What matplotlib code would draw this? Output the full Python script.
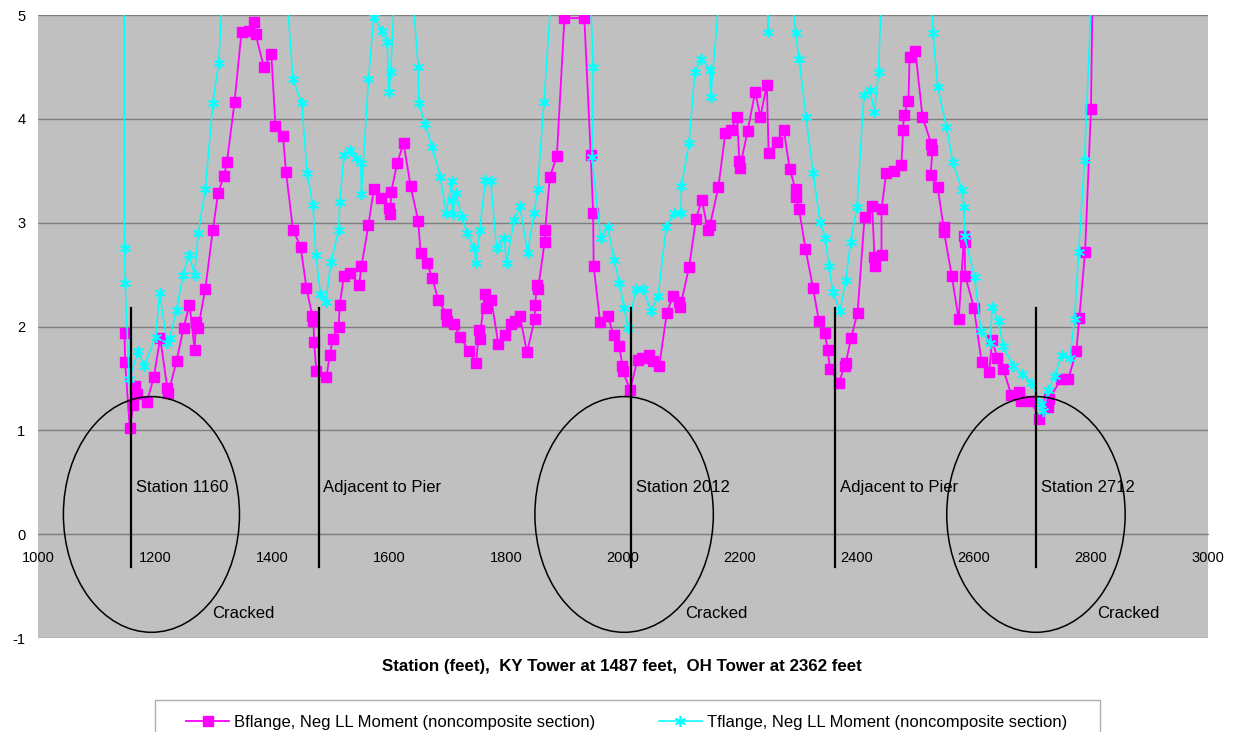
import matplotlib
matplotlib.use("Agg")
import matplotlib.pyplot as plt
from matplotlib.patches import Ellipse, Rectangle

plt.rcParams['font.family'] = ['Liberation Sans', 'DejaVu Sans']
plt.rcParams['axes.unicode_minus'] = False

# Bflange, Neg LL Moment (noncomposite section)
b_station = [1148, 1149, 1157, 1163, 1166, 1170, 1186, 1198, 1209, 1221, 1223, 1237, 1249, 1259, 1268, 1270,
             1274, 1286, 1299, 1308, 1318, 1323, 1336, 1348, 1360, 1369, 1372, 1386, 1399, 1406, 1419, 1424,
             1436, 1449, 1459, 1469, 1471, 1472, 1476, 1493, 1499, 1504, 1514, 1516, 1523, 1533, 1549, 1553,
             1565, 1574, 1586, 1600, 1602, 1604, 1614, 1625, 1637, 1650, 1654, 1665, 1674, 1684, 1698, 1700,
             1711, 1722, 1737, 1749, 1754, 1755, 1764, 1766, 1775, 1787, 1799, 1808, 1815, 1824, 1836, 1849,
             1850, 1853, 1855, 1866, 1867, 1875, 1887, 1900, 1934, 1945, 1949, 1950, 1961, 1974, 1984, 1994,
             1999, 2000, 2012, 2025, 2032, 2045, 2051, 2062, 2075, 2085, 2095, 2098, 2113, 2125, 2135, 2145,
             2149, 2163, 2175, 2184, 2195, 2199, 2200, 2213, 2226, 2235, 2246, 2249, 2263, 2275, 2285, 2295,
             2296, 2301, 2312, 2325, 2335, 2345, 2350, 2354, 2369, 2379, 2381, 2390, 2401, 2413, 2426, 2430,
             2431, 2442, 2442, 2450, 2464, 2476, 2479, 2480, 2488, 2490, 2500, 2512, 2527, 2529, 2526, 2538,
             2548, 2549, 2562, 2574, 2583, 2584, 2585, 2600, 2613, 2626, 2631, 2640, 2650, 2664, 2677, 2681,
             2698, 2712, 2727, 2728, 2749, 2761, 2775, 2780, 2790, 2800, 2806]
b_value = [1.94, 1.66, 1.02, 1.24, 1.43, 1.35, 1.27, 1.51, 1.89, 1.41, 1.36, 1.67, 1.99, 2.21, 1.77, 2.04,
           1.99, 2.36, 2.93, 3.29, 3.45, 3.58, 4.16, 4.84, 4.85, 4.93, 4.82, 4.50, 4.62, 3.93, 3.83, 3.49,
           2.93, 2.77, 2.37, 2.10, 2.05, 1.85, 1.57, 1.51, 1.73, 1.88, 2.00, 2.21, 2.49, 2.52, 2.40, 2.58,
           2.98, 3.32, 3.24, 3.14, 3.08, 3.30, 3.57, 3.77, 3.35, 3.02, 2.71, 2.61, 2.47, 2.26, 2.12, 2.05,
           2.02, 1.90, 1.76, 1.65, 1.97, 1.88, 2.31, 2.18, 2.26, 1.83, 1.92, 2.02, 2.05, 2.10, 1.75, 2.07,
           2.21, 2.40, 2.36, 2.81, 2.93, 3.44, 3.64, 4.97, 4.97, 3.65, 3.09, 2.58, 2.04, 2.10, 1.92, 1.81,
           1.62, 1.57, 1.39, 1.68, 1.70, 1.73, 1.67, 1.62, 2.13, 2.29, 2.24, 2.19, 2.57, 3.04, 3.22, 2.93,
           2.98, 3.34, 3.86, 3.89, 4.02, 3.59, 3.53, 3.88, 4.26, 4.02, 4.33, 3.67, 3.78, 3.89, 3.52, 3.32,
           3.25, 3.13, 2.75, 2.37, 2.05, 1.94, 1.77, 1.59, 1.46, 1.62, 1.65, 1.89, 2.13, 3.05, 3.16, 2.67,
           2.58, 2.69, 3.13, 3.48, 3.50, 3.56, 3.89, 4.04, 4.17, 4.60, 4.65, 4.02, 3.76, 3.70, 3.46, 3.34,
           2.96, 2.91, 2.49, 2.07, 2.87, 2.81, 2.49, 2.18, 1.66, 1.56, 1.87, 1.70, 1.59, 1.34, 1.37, 1.28,
           1.28, 1.11, 1.22, 1.30, 1.49, 1.49, 1.76, 2.08, 2.72, 4.09, 6.50]

# Tflange, Neg LL Moment (noncomposite section)
t_station = [1147, 1148, 1149, 1156, 1171, 1182, 1201, 1208, 1221, 1225, 1237, 1248, 1258, 1268, 1274, 1286,
             1299, 1309, 1318, 1424, 1436, 1451, 1460, 1470, 1475, 1483, 1492, 1501, 1514, 1516, 1523, 1533,
             1543, 1552, 1553, 1565, 1574, 1588, 1597, 1600, 1603, 1612, 1638, 1650, 1651, 1662, 1674, 1688,
             1698, 1707, 1708, 1709, 1714, 1725, 1734, 1745, 1749, 1755, 1765, 1774, 1784, 1797, 1801, 1814,
             1824, 1837, 1848, 1854, 1865, 1880, 1942, 1949, 1947, 1962, 1974, 1985, 1994, 2002, 2009, 2022,
             2035, 2048, 2060, 2074, 2088, 2099, 2100, 2113, 2123, 2134, 2149, 2150, 2165, 2246, 2248, 2251,
             2288, 2295, 2301, 2313, 2325, 2337, 2346, 2352, 2359, 2371, 2381, 2389, 2400, 2412, 2422, 2430,
             2437, 2444, 2526, 2530, 2538, 2553, 2564, 2580, 2583, 2584, 2601, 2612, 2628, 2631, 2642, 2650,
             2667, 2682, 2698, 2714, 2718, 2727, 2738, 2750, 2764, 2772, 2779, 2789, 2803]
t_value = [9.00, 2.76, 2.42, 1.49, 1.76, 1.62, 1.90, 2.32, 1.84, 1.89, 2.16, 2.50, 2.69, 2.50, 2.90, 3.32,
           4.15, 4.54, 5.50, 5.30, 4.38, 4.15, 3.48, 3.17, 2.69, 2.31, 2.24, 2.62, 2.93, 3.20, 3.65, 3.70,
           3.62, 3.57, 3.28, 4.38, 4.98, 4.85, 4.74, 4.26, 4.45, 5.50, 5.40, 4.50, 4.15, 3.95, 3.73, 3.44,
           3.09, 3.40, 3.22, 3.08, 3.29, 3.05, 2.90, 2.76, 2.61, 2.93, 3.41, 3.40, 2.76, 2.85, 2.61, 3.03,
           3.16, 2.71, 3.09, 3.32, 4.16, 5.42, 5.60, 4.50, 3.63, 2.85, 2.96, 2.64, 2.42, 2.18, 1.99, 2.36,
           2.36, 2.15, 2.29, 2.96, 3.09, 3.09, 3.35, 3.77, 4.45, 4.58, 4.47, 4.21, 5.20, 5.80, 4.84, 5.80,
           5.30, 4.83, 4.58, 4.02, 3.48, 3.01, 2.85, 2.58, 2.33, 2.15, 2.45, 2.81, 3.15, 4.23, 4.28, 4.07,
           4.45, 5.60, 5.60, 4.83, 4.31, 3.92, 3.58, 3.31, 3.15, 2.87, 2.48, 1.96, 1.84, 2.19, 2.05, 1.81,
           1.62, 1.54, 1.46, 1.25, 1.19, 1.39, 1.52, 1.73, 1.70, 2.07, 2.72, 3.60, 5.50]

# marked stations and the notes next to them
mark_station = [1159, 1480, 2014, 2363, 2706]
mark_text = ["Station 1160", "Adjacent to Pier", "Station 2012", "Adjacent to Pier", "Station 2712"]
crack_center = [1194, 2002, 2706]
crack_width = [301, 305, 305]

fig = plt.figure(figsize=(12.36, 7.32), dpi=100)
ax = fig.add_axes([0.0307, 0.1284, 0.9466, 0.8511])
ax.set_facecolor('#c0c0c0')

ax.plot(b_station, b_value, color='#ff00ff', lw=1.3, marker='s', ms=7.5, mec='#ff00ff',
        label='Bflange, Neg LL Moment (noncomposite section)', zorder=3)
ax.plot(t_station, t_value, color='#00ffff', lw=1.1, marker=(6, 2, 0), ms=8, mew=1.2,
        label='Tflange, Neg LL Moment (noncomposite section)', zorder=4)

# vertical station markers + text
for x, s in zip(mark_station, mark_text):
    ax.plot([x, x], [-0.32, 2.18], color='black', lw=1.6, zorder=5)
    ax.text(x + 8, 0.45, s, fontsize=12, va='center', ha='left', zorder=6)

# cracked regions
for c, w in zip(crack_center, crack_width):
    ax.add_patch(Ellipse((c, 0.19), w, 2.27, fill=False, ec='black', lw=1.1, zorder=5))
    ax.text(c + 104, -0.76, "Cracked", fontsize=12, va='center', ha='left', zorder=6)

ax.set_xlim(1000, 3000)
ax.set_ylim(-1, 5)
ax.set_xticks(range(1000, 3001, 200))
ax.set_yticks(range(-1, 6))
ax.yaxis.grid(True, color='#7f7f7f', lw=1)
ax.set_axisbelow(True)

for side in ['top', 'right', 'left']:
    ax.spines[side].set_visible(False)
ax.spines['bottom'].set_position(('data', 0))
ax.spines['bottom'].set_color('#7f7f7f')
ax.tick_params(axis='x', length=0, pad=12, labelsize=10.5)
ax.tick_params(axis='y', length=0, pad=9, labelsize=10.5)

fig.text(0.503, 1 - 667 / 732, "Station (feet),  KY Tower at 1487 feet,  OH Tower at 2362 feet",
         ha='center', va='center', fontsize=12.2, fontweight='bold')

# legend box runs off the bottom edge
fig.patches.append(Rectangle((155 / 1236, -0.02), 945 / 1236, 0.02 + 32 / 732, transform=fig.transFigure,
                             fill=False, ec='#b0b0b0', lw=1))
leg = fig.legend(loc='upper center', bbox_to_anchor=(0.507, 1 - 703 / 732), ncol=2, fontsize=12,
                 frameon=False, handlelength=2.6, handletextpad=0.3, columnspacing=3.8, borderpad=0.2)

fig.savefig('out.png', dpi=100)
